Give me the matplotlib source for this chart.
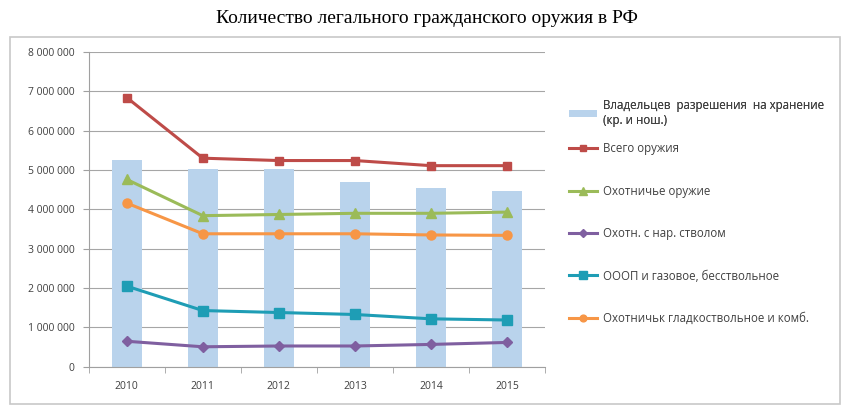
import matplotlib

matplotlib.use("Agg")

import matplotlib.pyplot as plt
import numpy as np
from matplotlib.patches import Rectangle
from matplotlib.ticker import FuncFormatter

years = ["2010", "2011", "2012", "2013", "2014", "2015"]

owners = [5.25e6, 5.03e6, 5.03e6, 4.69e6, 4.54e6, 4.46e6]
total = [6.84e6, 5.30e6, 5.24e6, 5.24e6, 5.11e6, 5.11e6]
hunting = [4.76e6, 3.84e6, 3.87e6, 3.90e6, 3.90e6, 3.93e6]
rifled = [0.65e6, 0.51e6, 0.53e6, 0.53e6, 0.57e6, 0.62e6]
self_defense = [2.05e6, 1.43e6, 1.38e6, 1.33e6, 1.22e6, 1.19e6]
smoothbore = [4.16e6, 3.38e6, 3.38e6, 3.38e6, 3.35e6, 3.34e6]

bar_label = "Владельцев  разрешения  на хранение\n(кр. и нош.)"
line_series = [
    ("Всего оружия", total, "#BE4B48", "s", 6),
    ("Охотничье оружие", hunting, "#9BBB59", "^", 7),
    ("Охотн. с нар. стволом", rifled, "#7F5FA0", "D", 5),
    ("ОООП и газовое, бесствольное", self_defense, "#1E9DB5", "s", 7),
    ("Охотничьк гладкоствольное и комб.", smoothbore, "#F79646", "o", 6.5),
]

plt.rcParams["font.family"] = ["Open Sans", "DejaVu Sans"]

fig = plt.figure(figsize=(8.53, 4.15), dpi=100)
ax = fig.add_axes([0.104, 0.116, 0.535, 0.759])

x = np.arange(len(years))
bars = ax.bar(x, owners, width=0.4, color="#B9D3EC", zorder=2)

handles = []
for label, values, color, marker, size in line_series:
    (line,) = ax.plot(
        x, values, color=color, marker=marker, markersize=size,
        linewidth=2.2, label=label, zorder=3,
    )
    handles.append(line)

ax.set_xlim(-0.5, len(years) - 0.5)
ax.set_ylim(0, 8e6)
ax.set_yticks(np.arange(0, 8e6 + 1, 1e6))
ax.yaxis.set_major_formatter(
    FuncFormatter(lambda v, _: f"{int(v):,}".replace(",", " "))
)
ax.set_xticks(x)
ax.set_xticklabels(years)
ax.set_xticks(np.arange(-0.5, len(years), 1), minor=True)
ax.tick_params(axis="x", which="major", length=0, pad=10, labelsize=7.5,
               labelcolor="#404040")
ax.tick_params(axis="x", which="minor", length=4, color="#A0A0A0")
ax.tick_params(axis="y", length=4, color="#A0A0A0", labelsize=7.5,
               labelcolor="#404040", pad=6)

ax.grid(axis="y", color="#A6A6A6", linewidth=0.8, zorder=0)
for side in ("top", "right"):
    ax.spines[side].set_visible(False)
for side in ("left", "bottom"):
    ax.spines[side].set_color("#A0A0A0")

fig.text(0.5, 0.955, "Количество легального гражданского оружия в РФ",
         ha="center", va="center", fontsize=14, family="Liberation Serif")

bar_legend = fig.legend(
    [bars], [bar_label], loc="upper left", bbox_to_anchor=(0.655, 0.787),
    frameon=False, fontsize=8.3, handlelength=2.4, handleheight=0.6,
    handletextpad=0.5, labelcolor="#404040",
)
fig.legend(
    handles, [h.get_label() for h in handles], loc="upper left",
    bbox_to_anchor=(0.655, 0.682), frameon=False, fontsize=8.3,
    handlelength=2.4, handletextpad=0.5, labelspacing=2.55, markerscale=0.75,
    labelcolor="#404040",
)
fig.add_artist(bar_legend)

fig.patches.append(
    Rectangle((0.012, 0.027), 0.973, 0.884, transform=fig.transFigure,
              fill=False, edgecolor="#C8C8C8", linewidth=1.2)
)

fig.savefig("out.png", dpi=100)
